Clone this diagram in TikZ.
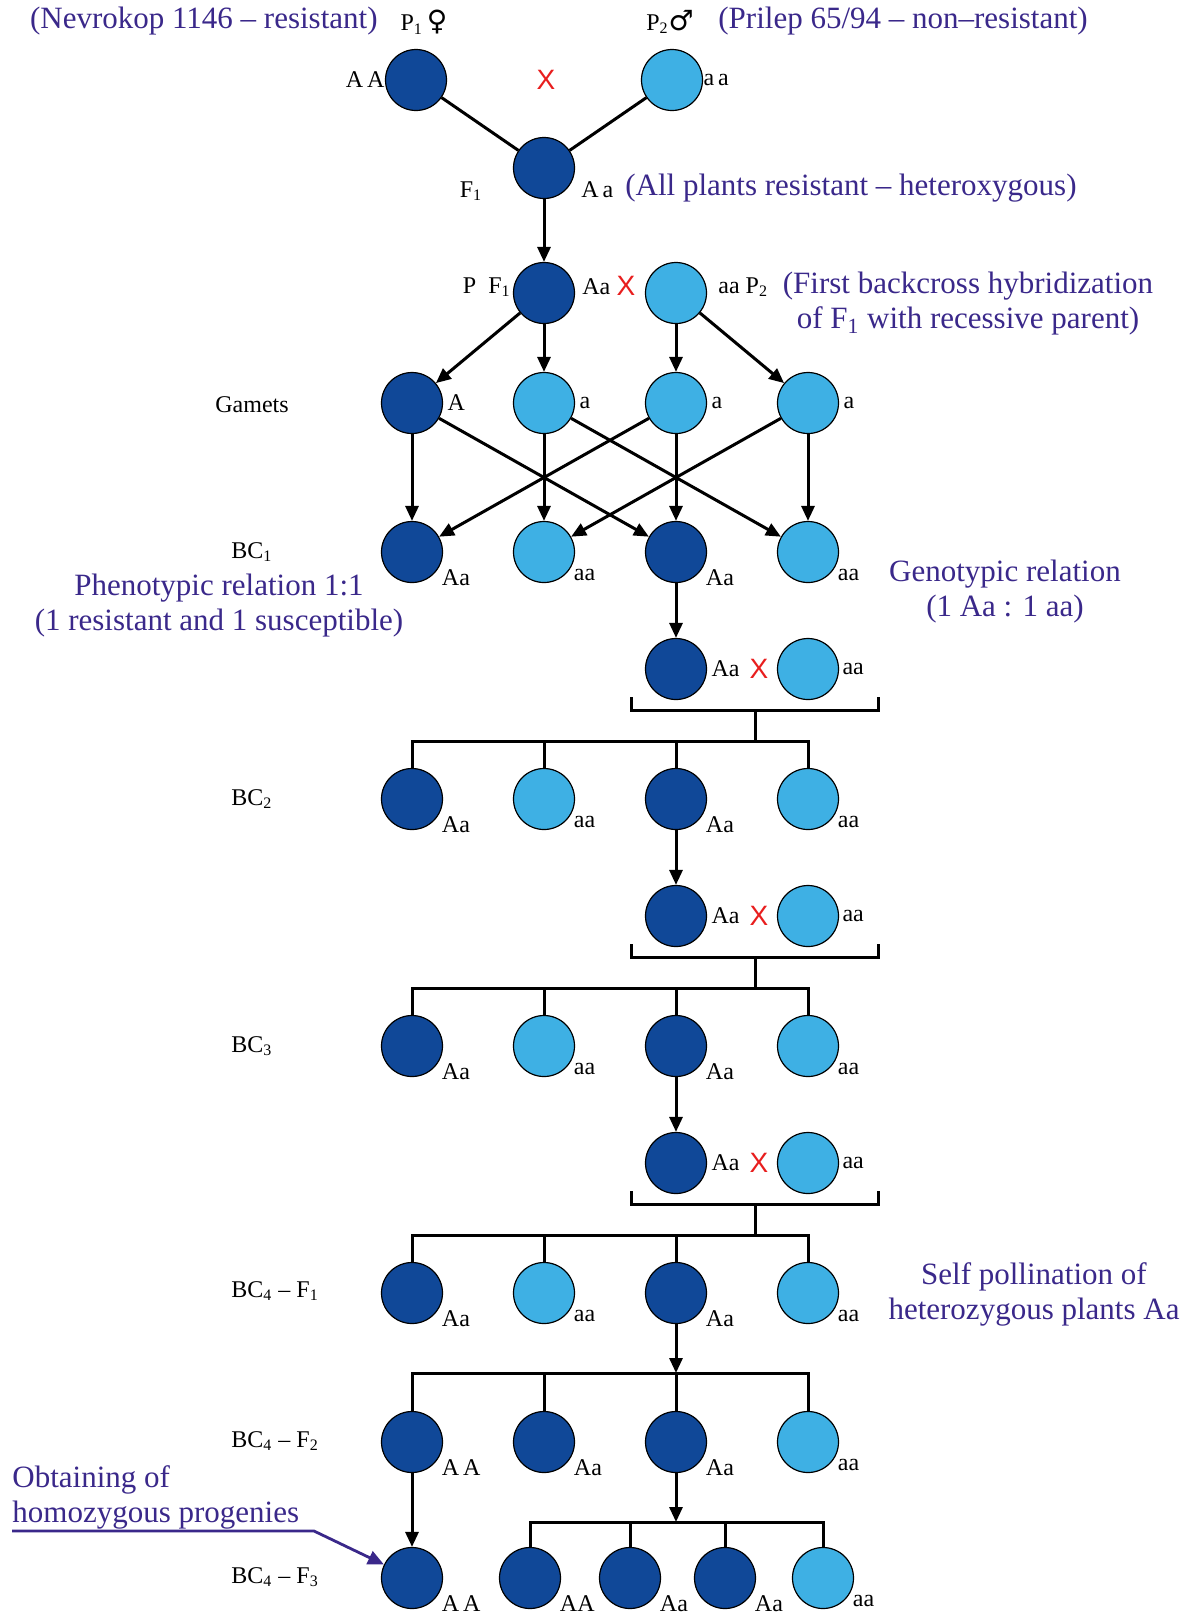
\documentclass[tikz,border=0pt]{standalone}
\usepackage{fontspec}
\setmainfont{Liberation Serif}
\newfontfamily\crossfont{Liberation Sans}
\newfontfamily\sexfont{DejaVu Sans}
\usetikzlibrary{positioning}
\usetikzlibrary{arrows.meta}
\definecolor{domblue}{RGB}{16,72,152}
\definecolor{recblue}{RGB}{62,176,228}
\definecolor{notecol}{RGB}{58,40,138}
\definecolor{crossred}{RGB}{232,30,30}

\begin{document}
\begin{tikzpicture}[x=0.5pt,y=-0.5pt,
  dom/.style={circle,draw=black,line width=0.6pt,fill=domblue,minimum width=29.5pt,minimum height=30.5pt,inner sep=0pt},
  rec/.style={dom,fill=recblue},
  gen/.style={font=\fontsize{12}{12}\selectfont,inner sep=0pt},
  gsw/.style={label={[gen,label distance=1.5pt]-30:#1}},
  ge/.style={label={[gen,label distance=2pt]0:#1}},
  note/.style={text=notecol,font=\fontsize{15.5}{17.5}\selectfont,align=center,inner sep=0pt},
  cross/.style={text=crossred,font=\crossfont\fontsize{14}{14}\selectfont,inner sep=0pt},
  arr/.style={line width=1.5pt,-{Triangle[length=7.5pt,width=6.5pt]}},
  link/.style={line width=1.5pt}]

\useasboundingbox (0,0) rectangle (1187,1614);

% parents
\node[note,anchor=east] (nevr) at (378,21) {(Nevrokop 1146 – resistant)};
\node[gen] (p1sex) at (424,22) {P\textsubscript{1}\,{\sexfont\bfseries\fontsize{14}{14}\selectfont ♀}};
\node[gen] (p2sex) at (670,22) {P\textsubscript{2}{\sexfont\bfseries\fontsize{14}{14}\selectfont ♂}};
\node[note,anchor=west] (pril) at (718,21) {(Prilep 65/94 – non–resistant)};
\node[dom,label={[gen]180:A\,A}] (p1) at (416,80) {};
\node[rec,label={[gen]0:a\,a}] (p2) at (672,80) {};
\node[cross] (x0) at (546,80) {X};

% F1
\node[dom] (f1) at (544,168) {};
\node[gen] (f1lab) at (471,191) {F\textsubscript{1}};
\node[gen,anchor=west] (f1gen) at (581,190) {A\,a};
\node[note,anchor=west] (allres) at (625,188) {(All plants resistant – heteroxygous)};
\draw[link] (p1) -- (f1);
\draw[link] (p2) -- (f1);

% backcross F1 x P2
\node[dom] (bf1) at (544,293) {};
\node[rec] (bp2) at (676,293) {};
\node[gen,anchor=east] (bf1lab) at (511,287) {P\enspace F\textsubscript{1}};
\node[gen,anchor=west] (bf1gen) at (582,287) {Aa};
\node[cross] (x1) at (626,286) {X};
\node[gen,anchor=west] (bp2gen) at (718,287) {aa P\textsubscript{2}};
\node[note] (firstbc) at (968,304) {(First backcross hybridization\\of F\textsubscript{1} with recessive parent)};
\draw[arr] (f1) -- (bf1);

% gametes
\node[gen] (gamlab) at (252,405) {Gamets};
\node[dom,ge=A] (g1) at (412,403) {};
\node[rec,ge=a] (g2) at (544,403) {};
\node[rec,ge=a] (g3) at (676,403) {};
\node[rec,ge=a] (g4) at (808,403) {};
\draw[arr] (bf1) -- (g1);
\draw[arr] (bf1) -- (g2);
\draw[arr] (bp2) -- (g3);
\draw[arr] (bp2) -- (g4);

% BC1
\node[gen,anchor=west] (bc1lab) at (231,552) {BC\textsubscript{1}};
\node[dom,gsw=Aa] (b11) at (412,552) {};
\node[rec,gsw=aa] (b12) at (544,552) {};
\node[dom,gsw=Aa] (b13) at (676,552) {};
\node[rec,gsw=aa] (b14) at (808,552) {};
\draw[arr] (g1) -- (b11);
\draw[arr] (g1) -- (b13);
\draw[arr] (g2) -- (b12);
\draw[arr] (g2) -- (b14);
\draw[arr] (g3) -- (b11);
\draw[arr] (g3) -- (b13);
\draw[arr] (g4) -- (b12);
\draw[arr] (g4) -- (b14);
\node[note] (pheno) at (219,606) {Phenotypic relation 1:1\\(1 resistant and 1 susceptible)};
\node[note] (geno) at (1005,592) {Genotypic relation\\(1 Aa : 1 aa)};

% cross 1 -> BC2
\node[dom,label={[gen,label distance=2pt]0:Aa}] (k1d) at (676,669) {};
\node[cross] (x2) at (759,669) {X};
\node[rec,label={[gen,label distance=1.5pt]0:aa}] (k1r) at (808,669) {};
\draw[arr] (b13) -- (k1d);
\draw[link] (631,697) -- (631,710) -- (878,710) -- (878,697);
\coordinate (h1) at (755,741);
\draw[link] (755,710) -- (h1);
\node[gen,anchor=west] (bc2lab) at (231,799) {BC\textsubscript{2}};
\node[dom,gsw=Aa] (b21) at (412,799) {};
\node[rec,gsw=aa] (b22) at (544,799) {};
\node[dom,gsw=Aa] (b23) at (676,799) {};
\node[rec,gsw=aa] (b24) at (808,799) {};
\draw[link] (b21.north) |- (b24.north |- h1) -- (b24.north);
\draw[link] (b22.north) -- (b22.north |- h1);
\draw[link] (b23.north) -- (b23.north |- h1);

% cross 2 -> BC3
\node[dom,label={[gen,label distance=2pt]0:Aa}] (k2d) at (676,916) {};
\node[cross] (x3) at (759,916) {X};
\node[rec,label={[gen,label distance=1.5pt]0:aa}] (k2r) at (808,916) {};
\draw[arr] (b23) -- (k2d);
\draw[link] (631,944) -- (631,957) -- (878,957) -- (878,944);
\coordinate (h2) at (755,988);
\draw[link] (755,957) -- (h2);
\node[gen,anchor=west] (bc3lab) at (231,1046) {BC\textsubscript{3}};
\node[dom,gsw=Aa] (b31) at (412,1046) {};
\node[rec,gsw=aa] (b32) at (544,1046) {};
\node[dom,gsw=Aa] (b33) at (676,1046) {};
\node[rec,gsw=aa] (b34) at (808,1046) {};
\draw[link] (b31.north) |- (b34.north |- h2) -- (b34.north);
\draw[link] (b32.north) -- (b32.north |- h2);
\draw[link] (b33.north) -- (b33.north |- h2);

% cross 3 -> BC4-F1
\node[dom,label={[gen,label distance=2pt]0:Aa}] (k3d) at (676,1163) {};
\node[cross] (x4) at (759,1163) {X};
\node[rec,label={[gen,label distance=1.5pt]0:aa}] (k3r) at (808,1163) {};
\draw[arr] (b33) -- (k3d);
\draw[link] (631,1191) -- (631,1204) -- (878,1204) -- (878,1191);
\coordinate (h3) at (755,1235);
\draw[link] (755,1204) -- (h3);
\node[gen,anchor=west] (bc41lab) at (231,1291) {BC\textsubscript{4} – F\textsubscript{1}};
\node[dom,gsw=Aa] (f11) at (412,1293) {};
\node[rec,gsw=aa] (f12) at (544,1293) {};
\node[dom,gsw=Aa] (f13) at (676,1293) {};
\node[rec,gsw=aa] (f14) at (808,1293) {};
\draw[link] (f11.north) |- (f14.north |- h3) -- (f14.north);
\draw[link] (f12.north) -- (f12.north |- h3);
\draw[link] (f13.north) -- (f13.north |- h3);
\node[note] (selfp) at (1034,1294) {Self pollination of\\heterozygous plants Aa};

% selfing -> BC4-F2
\coordinate (h4) at (676,1373);
\draw[arr] (f13) -- (h4);
\node[gen,anchor=west] (bc42lab) at (231,1441) {BC\textsubscript{4} – F\textsubscript{2}};
\node[dom,gsw=A\,A] (f21) at (412,1442) {};
\node[dom,gsw=Aa] (f22) at (544,1442) {};
\node[dom,gsw=Aa] (f23) at (676,1442) {};
\node[rec,gsw=aa] (f24) at (808,1442) {};
\draw[link] (f21.north) |- (f24.north |- h4) -- (f24.north);
\draw[link] (f22.north) -- (f22.north |- h4);
\draw[link] (h4) -- (f23.north);

% BC4-F3
\coordinate (h5) at (676,1522);
\draw[arr] (f23) -- (h5);
\node[gen,anchor=west] (bc43lab) at (231,1577) {BC\textsubscript{4} – F\textsubscript{3}};
\node[dom,gsw=A\,A] (f31) at (412,1578) {};
\node[dom,gsw=AA] (f32) at (530,1578) {};
\node[dom,gsw=Aa] (f33) at (630,1578) {};
\node[dom,gsw=Aa] (f34) at (725,1578) {};
\node[rec,gsw=aa] (f35) at (823,1578) {};
\draw[arr] (f21) -- (f31);
\draw[link] (f32.north) |- (f35.north |- h5) -- (f35.north);
\draw[link] (f33.north) -- (f33.north |- h5);
\draw[link] (f34.north) -- (f34.north |- h5);

% homozygous note
\node[note,align=left,anchor=west] (obt) at (12,1497) {Obtaining of\\homozygous progenies};
\coordinate (ul) at (314,1531);
\draw[notecol,line width=1.4pt,-{Triangle[length=8pt,width=7pt]}] (obt.west |- ul) -- (ul) -- (f31);

\end{tikzpicture}
\end{document}
